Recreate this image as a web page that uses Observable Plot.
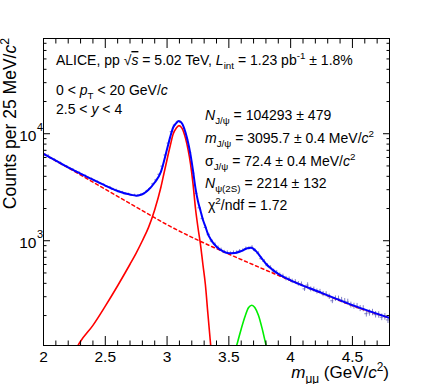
<!DOCTYPE html>
<html><head><meta charset="utf-8">
<script src="https://cdn.jsdelivr.net/npm/d3@7"></script>
<script src="https://cdn.jsdelivr.net/npm/@observablehq/plot@0.6"></script>
<style>body{margin:0;background:#fff} svg{display:block}</style>
</head><body><div id="chart"></div>
<script>
// ---- data ----
const binStart = 2.0, binWidth = 0.025;
const counts = [6420,6280,5930,5760,5490,5350,5100,4970,4760,4650,4450,4350,4150,4050,3880,3800,3630,3560,3420,3350,
  3210,3160,3030,2980,2870,2840,2740,2730,2660,2670,2630,2690,2750,2910,3080,3400,3700,4180,4980,6330,
  8180,10450,12050,13050,12750,11150,8850,6650,4280,2770,2030,1610,1330,1140,990,925,865,825,785,775,
  760,775,775,800,810,845,850,870,810,765,680,640,585,560,520,505,478,466,443,437,
  418,413,396,392,355,385,352,350,336,333,318,316,300,275,288,287,279,272,268,251,
  245,244,233,232,208,212,214,204,203,193,195,182];

const totalMass = [2.0,2.1,2.2,2.3,2.4,2.5,2.6,2.7,2.75,2.8,2.85,2.9,2.95,3.0,3.025,3.05,3.075,3.096,3.12,3.15,3.17,3.19,3.21,3.23,3.25,3.27,3.29,3.31,3.33,3.35,3.4,3.45,3.5,3.55,3.6,3.65,3.68,3.72,3.76,3.8,3.85,3.9,3.95,4.0,4.25,4.5,4.8];
const totalFit  = [6490,5600,4850,4230,3720,3280,2920,2700,2640,2720,3000,3500,4400,7200,9300,11500,12600,13160,12530,10190,8270,6340,4510,3090,2340,1920,1570,1360,1160,1045,880,800,765,770,800,850,860,800,700,610,540,490,455,427,326,250,190];

const bkgMass = [2.0,2.25,2.5,2.75,3.0,3.25,3.5,3.75,4.0,4.25,4.5,4.8];
const bkgFit  = [6490,4440,3030,2065,1413,1012,750,562,425,324,248,190];

const jpsiMass = [2.25,2.3,2.4,2.5,2.6,2.7,2.75,2.8,2.85,2.9,2.95,2.975,3.0,3.025,3.05,3.075,3.096,3.12,3.15,3.17,3.19,3.21,3.23,3.25,3.27,3.29,3.31,3.33,3.35,3.37];
const jpsiFit  = [92,115,162,245,380,603,767,1000,1334,1950,3160,4270,5750,7680,10000,11300,11900,11300,9000,7100,5200,3400,2000,1330,930,600,390,210,115,65];

const psiMass = [3.54,3.57,3.6,3.63,3.66,3.686,3.71,3.74,3.77,3.8,3.83];
const psiFit  = [85,112,150,195,238,250,238,200,150,107,80];

const xMajorTicks = [2, 2.5, 3, 3.5, 4, 4.5];
const xMinorTicks = [2.1,2.2,2.3,2.4,2.6,2.7,2.8,2.9,3.1,3.2,3.3,3.4,3.6,3.7,3.8,3.9,4.1,4.2,4.3,4.4,4.6,4.7];
const yMajorTicks = [1000, 10000];
const yTickExp = ["3", "4"];
const yMinorTicks = [200,300,400,500,600,700,800,900,2000,3000,4000,5000,6000,7000,8000,9000,20000,30000,40000,50000,60000,70000];

// ---- tables ----
const points = counts.map((n, i) => ({m: binStart + binWidth * (i + 0.5), n}));
const zip = (ms, vs) => ms.map((m, i) => ({m, v: vs[i]}));
const total = zip(totalMass, totalFit), bkg = zip(bkgMass, bkgFit), jpsi = zip(jpsiMass, jpsiFit), psi = zip(psiMass, psiFit);
const yLabels = yMajorTicks.map((v, i) => ({v, e: yTickExp[i]}));

const font = "'Liberation Sans', Arial, Helvetica, sans-serif";
const ptColor = "#5a5ab4";

const plot = Plot.plot({
  width: 432, height: 384,
  marginLeft: 43, marginRight: 43, marginTop: 38, marginBottom: 39,
  style: {fontFamily: font, background: "white", color: "black", overflow: "visible"},
  x: {domain: [2, 4.8]},
  y: {type: "log", domain: [105, 77600]},
  marks: [
    // data points with errors
    Plot.ruleX(points, {x: "m", y1: d => d.n - Math.sqrt(d.n), y2: d => d.n + Math.sqrt(d.n), stroke: ptColor, strokeOpacity: 0.75, strokeWidth: 1, clip: true}),
    Plot.ruleY(points, {y: "n", x1: d => d.m - binWidth / 2, x2: d => d.m + binWidth / 2, stroke: ptColor, strokeOpacity: 0.75, strokeWidth: 1, clip: true}),
    // fit components
    Plot.line(bkg, {x: "m", y: "v", stroke: "#ff0000", strokeWidth: 1.5, strokeDasharray: "3,3", curve: "monotone-x", clip: true}),
    Plot.line(jpsi, {x: "m", y: "v", stroke: "#ff0000", strokeWidth: 1.6, curve: "monotone-x", clip: true}),
    Plot.line(psi, {x: "m", y: "v", stroke: "#00ee00", strokeWidth: 1.6, curve: "monotone-x", clip: true}),
    Plot.line(total, {x: "m", y: "v", stroke: "#0000ff", strokeWidth: 2, curve: "monotone-x", clip: true}),
    // frame & ticks (inward, ROOT style)
    Plot.frame({stroke: "black", strokeWidth: 1}),
    Plot.axisX(xMajorTicks, {anchor: "bottom", tickSize: -9, tickFormat: () => "", label: null}),
    Plot.axisX(xMinorTicks, {anchor: "bottom", tickSize: -4.5, tickFormat: () => "", label: null}),
    Plot.axisX(xMajorTicks, {anchor: "top", tickSize: -9, tickFormat: () => "", label: null}),
    Plot.axisX(xMinorTicks, {anchor: "top", tickSize: -4.5, tickFormat: () => "", label: null}),
    Plot.axisX(xMajorTicks, {anchor: "bottom", tickSize: 0, tickPadding: 5, fontSize: 15.5, tickFormat: d => String(d), label: null}),
    Plot.axisY(yMajorTicks, {anchor: "left", tickSize: -7, tickFormat: () => "", label: null}),
    Plot.axisY(yMinorTicks, {anchor: "left", tickSize: -3.5, tickFormat: () => "", label: null}),
    Plot.axisY(yMajorTicks, {anchor: "right", tickSize: -7, tickFormat: () => "", label: null}),
    Plot.axisY(yMinorTicks, {anchor: "right", tickSize: -3.5, tickFormat: () => "", label: null}),
    Plot.text(yLabels, {y: "v", frameAnchor: "left", text: () => "10", textAnchor: "end", dx: -7, dy: 2, fontSize: 15.5, fill: "black"}),
    Plot.text(yLabels, {y: "v", frameAnchor: "left", text: "e", textAnchor: "start", dx: -6.5, dy: -6, fontSize: 11, fill: "black"})
  ]
});
document.getElementById("chart").append(plot);

// ---- rich-text annotations ----
const svg = d3.select(plot.tagName.toLowerCase() === "svg" ? plot : plot.querySelector("svg"));
function rich(x, y, parts, size, opts = {}) {
  const t = svg.append("text").attr("x", x).attr("y", y)
    .attr("font-size", size).attr("font-family", font).attr("fill", "black")
    .attr("text-anchor", opts.anchor || "start");
  if (opts.transform) t.attr("transform", opts.transform);
  let shift = 0;
  for (const p of parts) {
    const s = typeof p === "string" ? {t: p} : p;
    const target = s.sub ? size * 0.27 : s.sup ? -size * 0.42 : 0;
    const ts = t.append("tspan").text(s.t);
    if (target !== shift) ts.attr("dy", target - shift);
    shift = target;
    if (s.sub || s.sup) ts.attr("font-size", size * 0.7);
    if (s.i) ts.attr("font-style", "italic");
    if (s.over) ts.attr("text-decoration", "overline");
  }
  return t;
}
const fs = 14;
rich(56, 65, ["ALICE, pp ", "\u221A", {t: "s", i: true, over: true}, " = 5.02 TeV, ", {t: "L", i: true}, {t: "int", sub: true}, " = 1.23 pb", {t: "-1", sup: true}, " \u00B1 1.8%"], fs);
rich(56, 95, ["0 < ", {t: "p", i: true}, {t: "T", sub: true}, " < 20 GeV/", {t: "c", i: true}], fs);
rich(56, 114, ["2.5 < ", {t: "y", i: true}, " < 4"], fs);
rich(205, 120, [{t: "N", i: true}, {t: "J/\u03C8", sub: true}, " = 104293 \u00B1 479"], fs);
rich(205, 143, [{t: "m", i: true}, {t: "J/\u03C8", sub: true}, " = 3095.7 \u00B1 0.4 MeV/", {t: "c", i: true}, {t: "2", sup: true}], fs);
rich(205, 166, ["\u03C3", {t: "J/\u03C8", sub: true}, " = 72.4 \u00B1 0.4 MeV/", {t: "c", i: true}, {t: "2", sup: true}], fs);
rich(205, 188, [{t: "N", i: true}, {t: "\u03C8(2S)", sub: true}, " = 2214 \u00B1 132"], fs);
rich(208, 210, ["\u03C7", {t: "2", sup: true}, "/ndf = 1.72"], fs);
// axis titles
rich(389, 378, [{t: "m", i: true}, {t: "\u03BC\u03BC", sub: true}, " (GeV/", {t: "c", i: true}, {t: "2", sup: true}, ")"], 17, {anchor: "end"});
rich(0, 0, ["Counts per 25 MeV/", {t: "c", i: true}, {t: "2", sup: true}], 17.5, {anchor: "end", transform: "translate(16,38) rotate(-90)"});
</script></body></html>
